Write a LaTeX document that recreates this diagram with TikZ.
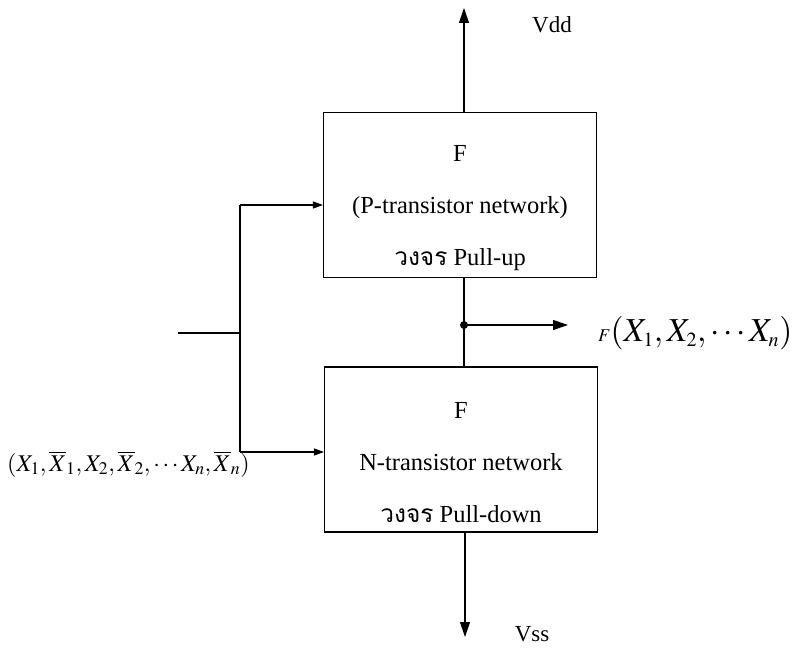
\documentclass[tikz,border=0pt]{standalone}
\usepackage{mathptmx}
\usepackage{fontspec}
\setmainfont{Liberation Serif}
\newfontfamily\thaifont[Script=Thai]{Loma}
\usetikzlibrary{arrows.meta,positioning}
\begin{document}
\begin{tikzpicture}[x=1pt,y=1pt,
  netbox/.style={draw, line width=1.1pt, minimum width=273pt, minimum height=165pt},
  boxtext/.style={align=center, font=\fontsize{24.5}{52}\selectfont},
  rail/.style={font=\fontsize{23}{23}\selectfont},
  arr/.style={-{Triangle[length=15pt,width=10pt]}, line width=1.1pt},
  inarr/.style={-{Triangle[length=10pt,width=7pt]}, line width=1.1pt},
  wire/.style={line width=1.1pt}]
\useasboundingbox (0,0) rectangle (797,649);
% the two networks
\node[netbox] (pup) at (460,454) {};
\node[netbox] (pdn) at (461,199.5) {};
\node[boxtext] (puptxt) at ([yshift=-13pt]pup.center) {F\\(P-transistor network)\\{\thaifont วงจร} Pull-up};
\node[boxtext] (pdntxt) at ([yshift=-13pt]pdn.center) {F\\N-transistor network\\{\thaifont วงจร} Pull-down};
% supply rails
\coordinate (vddtip) at (464,641);
\coordinate (vsstip) at (465,12);
\draw[arr] (pup.north -| vddtip) -- (vddtip);
\draw[arr] (pdn.south -| vsstip) -- (vsstip);
\node[rail] (vdd) at (552,624) {Vdd};
\node[rail] (vss) at (532,15) {Vss};
% output
\coordinate (jn) at (464,324);
\coordinate (outtip) at (568,324);
\draw[wire] (pup.south -| jn) -- (pdn.north -| jn);
\fill (jn) circle (4pt);
\draw[arr] (jn) -- (outtip);
\node[anchor=west, inner sep=0pt] (outlbl) at (598,316)
  {{\fontsize{18}{18}\selectfont$F$}{\fontsize{33.5}{33.5}\selectfont$(X_{\scriptscriptstyle 1},X_{\scriptscriptstyle 2},\cdots X_{\scriptscriptstyle n})$}};
% inputs
\coordinate (instart) at (178,316);
\coordinate (bustop) at (240,444);
\coordinate (busmid) at (240,316);
\coordinate (busbot) at (240,197);
\draw[wire] (instart) -- (busmid);
\draw[wire] (bustop) -- (busbot);
\draw[inarr] (bustop) -- (bustop -| pup.west);
\draw[inarr] (busbot) -- (busbot -| pdn.west);
\node[anchor=west, inner sep=0pt] (inlbl) at (7,185)
  {\fontsize{24}{24}\selectfont$(X_{1},\overline{X}_{1},X_{2},\overline{X}_{2},\cdots X_{n},\overline{X}_{n})$};
\end{tikzpicture}
\end{document}
